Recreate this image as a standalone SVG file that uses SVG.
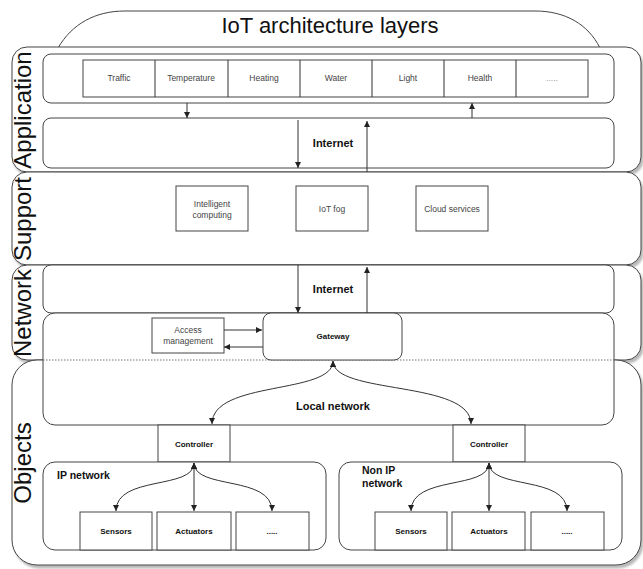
<svg xmlns="http://www.w3.org/2000/svg" width="643" height="569" viewBox="0 0 643 569">
  <defs>
    <filter id="shadow" x="-5%" y="-5%" width="110%" height="115%">
      <feDropShadow dx="2" dy="3" stdDeviation="1.2" flood-color="#000" flood-opacity="0.28"/>
    </filter>
    <marker id="arrow" viewBox="0 0 6 6" refX="6" refY="3" markerWidth="6" markerHeight="6" markerUnits="userSpaceOnUse" orient="auto-start-reverse">
      <path d="M0,0 L6,3 L0,6 z" fill="#222"/>
    </marker>
    <style>
      .layer { fill: #fff; stroke: #444; stroke-width: 1; filter: url(#shadow); }
      .box { fill: #fff; stroke: #444; stroke-width: 1; }
      .layerLabel { font-family: "Liberation Sans", Arial, sans-serif; font-size: 24px; fill: #111; text-anchor: middle; }
      .title { font-family: "Liberation Sans", Arial, sans-serif; font-size: 22px; fill: #111; text-anchor: middle; }
      .small { font-family: "Liberation Sans", Arial, sans-serif; font-size: 8.5px; fill: #444; text-anchor: middle; }
      .bold { font-family: "Liberation Sans", Arial, sans-serif; font-weight: bold; fill: #111; text-anchor: middle; }
      .edge { fill: none; stroke: #333; stroke-width: 1; }
      .arrow { marker-end: url(#arrow); }
      .both { marker-start: url(#arrow); marker-end: url(#arrow); }
    </style>
  </defs>

  <rect width="643" height="569" fill="#fff"/>

  <!-- title cap -->
  <g id="title">
    <path d="M58,48 C72,24 95,11 125,11 L535,11 C565,11 588,24 600,48" class="box"/>
    <text x="330" y="33" class="title">IoT architecture layers</text>
  </g>

  <!-- layer bands -->
  <g id="layer-application">
    <rect x="12" y="47" width="629" height="125" rx="15" class="layer"/>
    <text class="layerLabel" transform="translate(31,110) rotate(-90)">Application</text>
  </g>
  <g id="layer-support">
    <rect x="12" y="172" width="629" height="93" rx="15" class="layer"/>
    <text class="layerLabel" transform="translate(31,219) rotate(-90)">Support</text>
  </g>
  <g id="layer-network">
    <rect x="12" y="265" width="629" height="95" rx="15" class="layer"/>
    <text class="layerLabel" transform="translate(31,313) rotate(-90)">Network</text>
  </g>
  <g id="layer-objects">
    <rect x="12" y="360" width="629" height="205" rx="25" class="layer"/>
    <text class="layerLabel" transform="translate(31,463) rotate(-90)">Objects</text>
  </g>

  <!-- application services -->
  <g id="applications">
    <rect x="43" y="54" width="571" height="49" rx="8" class="box"/>
    <rect x="83" y="60" width="505" height="37" class="box"/>
    <path d="M155,60V97 M228,60V97 M300,60V97 M372,60V97 M444,60V97 M516,60V97" class="edge"/>
    <text x="119" y="81" class="small">Traffic</text>
    <text x="191" y="81" class="small">Temperature</text>
    <text x="264" y="81" class="small">Heating</text>
    <text x="336" y="81" class="small">Water</text>
    <text x="408" y="81" class="small">Light</text>
    <text x="480" y="81" class="small">Health</text>
    <text x="552" y="81" class="small" fill="#999" style="fill:#999">.....</text>
  </g>

  <g id="internet-app">
    <rect x="43" y="118" width="571" height="50" rx="8" class="box"/>
    <text x="333" y="147" class="bold" font-size="11">Internet</text>
  </g>

  <!-- support services -->
  <g id="intelligent-computing">
    <rect x="176" y="186" width="72" height="45" class="box"/>
    <text x="212" y="207" class="small">Intelligent</text>
    <text x="212" y="218" class="small">computing</text>
  </g>
  <g id="iot-fog">
    <rect x="296" y="186" width="72" height="45" class="box"/>
    <text x="332" y="212" class="small">IoT fog</text>
  </g>
  <g id="cloud-services">
    <rect x="416" y="186" width="72" height="45" class="box"/>
    <text x="452" y="212" class="small">Cloud services</text>
  </g>

  <!-- network -->
  <g id="internet-net">
    <rect x="43" y="265" width="571" height="48" rx="8" class="box"/>
    <text x="333" y="293" class="bold" font-size="11">Internet</text>
  </g>
  <g id="local-network">
    <rect x="43" y="313" width="571" height="112" rx="12" class="box"/>
    <line x1="43" y1="360" x2="614" y2="360" stroke="#777" stroke-width="1" stroke-dasharray="1.5,1.5"/>
    <text x="333" y="410" class="bold" font-size="11">Local network</text>
  </g>
  <g id="access-management">
    <rect x="152" y="318" width="72" height="35" class="box"/>
    <text x="188" y="333" class="small">Access</text>
    <text x="188" y="344" class="small">management</text>
  </g>
  <g id="gateway">
    <rect x="263" y="313" width="139" height="47" rx="8" class="box"/>
    <text x="333" y="339" class="bold" font-size="8">Gateway</text>
  </g>

  <!-- objects -->
  <g id="controller-ip">
    <rect x="158" y="425" width="72" height="37" class="box"/>
    <text x="194" y="447" class="bold" font-size="8">Controller</text>
  </g>
  <g id="controller-nonip">
    <rect x="453" y="425" width="72" height="37" class="box"/>
    <text x="489" y="447" class="bold" font-size="8">Controller</text>
  </g>
  <g id="ip-network">
    <rect x="43" y="462" width="283" height="88" rx="12" class="box"/>
    <text x="57" y="479" class="bold" font-size="10.5" text-anchor="start" style="text-anchor:start">IP network</text>
  </g>
  <g id="nonip-network">
    <rect x="339" y="462" width="283" height="88" rx="12" class="box"/>
    <text x="362" y="474" class="bold" font-size="10.5" style="text-anchor:start">Non IP</text>
    <text x="362" y="487" class="bold" font-size="10.5" style="text-anchor:start">network</text>
  </g>
  <g id="ip-sensors">
    <rect x="80" y="512" width="72" height="38" class="box"/>
    <text x="116" y="534" class="bold" font-size="8">Sensors</text>
  </g>
  <g id="ip-actuators">
    <rect x="157" y="512" width="74" height="38" class="box"/>
    <text x="194" y="534" class="bold" font-size="8">Actuators</text>
  </g>
  <g id="ip-more">
    <rect x="236" y="512" width="73" height="38" class="box"/>
    <text x="272" y="534" class="bold" font-size="8">.....</text>
  </g>
  <g id="nonip-sensors">
    <rect x="375" y="512" width="72" height="38" class="box"/>
    <text x="411" y="534" class="bold" font-size="8">Sensors</text>
  </g>
  <g id="nonip-actuators">
    <rect x="452" y="512" width="73" height="38" class="box"/>
    <text x="489" y="534" class="bold" font-size="8">Actuators</text>
  </g>
  <g id="nonip-more">
    <rect x="531" y="512" width="73" height="38" class="box"/>
    <text x="567" y="534" class="bold" font-size="8">.....</text>
  </g>

  <!-- connectors -->
  <g id="connectors">
    <path d="M187,103 V118" class="edge arrow"/>
    <path d="M472,118 V103" class="edge arrow"/>
    <path d="M298,120 V168" class="edge arrow"/>
    <path d="M367,172 V121" class="edge arrow"/>
    <path d="M298,265 V313" class="edge arrow"/>
    <path d="M367,313 V267" class="edge arrow"/>
    <path d="M224,330 H262" class="edge arrow"/>
    <path d="M263,347 H224" class="edge arrow"/>
    <path d="M333,361 C333,395 212,380 212,424" class="edge both"/>
    <path d="M333,361 C333,395 471,380 471,424" class="edge both"/>
    <path d="M194,463 C194,490 116,475 116,511" class="edge both"/>
    <path d="M194,463 V511" class="edge both"/>
    <path d="M194,463 C194,490 272,475 272,511" class="edge both"/>
    <path d="M489,463 C489,490 411,475 411,511" class="edge both"/>
    <path d="M489,463 V511" class="edge both"/>
    <path d="M489,463 C489,490 567,475 567,511" class="edge both"/>
  </g>
</svg>
